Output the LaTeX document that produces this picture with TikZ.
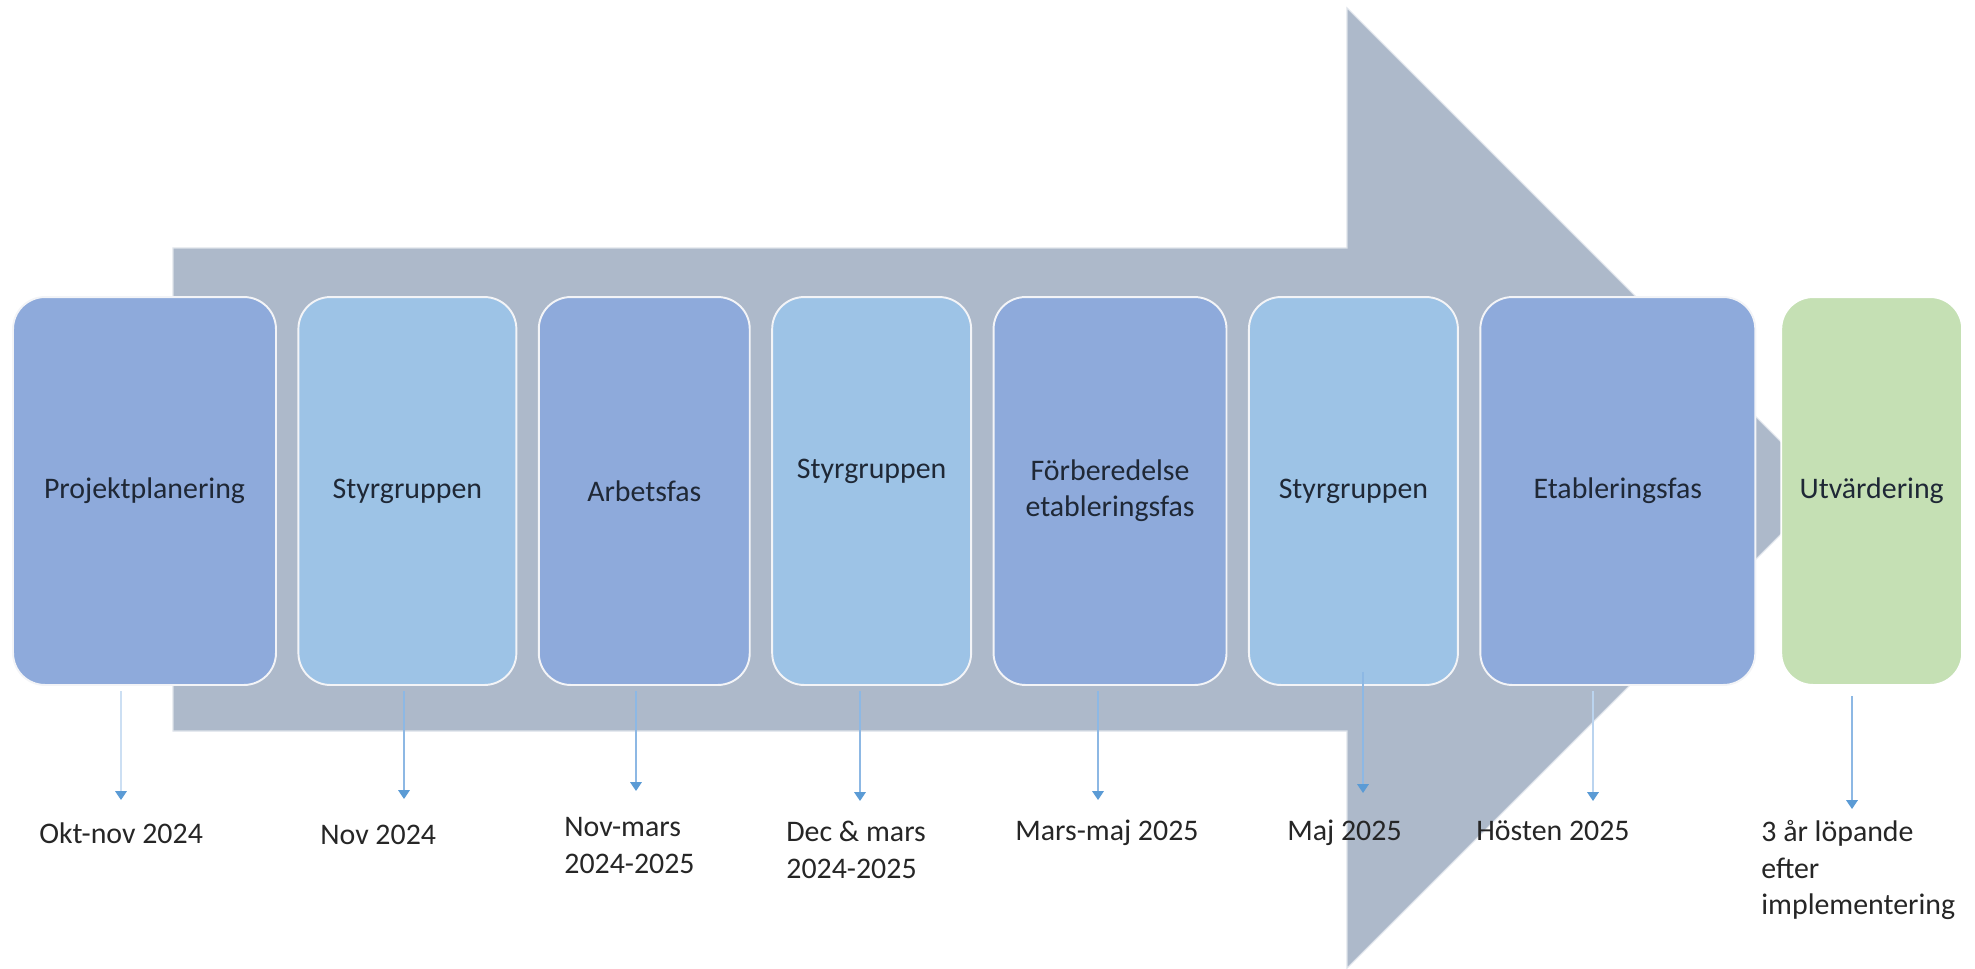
\documentclass[tikz,border=0pt]{standalone}
\usepackage{fontspec}
\setmainfont{Carlito}
\usetikzlibrary{arrows.meta,positioning}

\definecolor{fasmork}{HTML}{8EAADB}
\definecolor{fasljus}{HTML}{9DC3E6}
\definecolor{fasgron}{HTML}{C5E0B4}
\definecolor{pilgra}{HTML}{ADB9CA}
\definecolor{linjebla}{HTML}{8DB8E4}
\definecolor{spetsbla}{HTML}{5B9BD5}
\definecolor{textmork}{HTML}{1F2836}

\begin{document}
\begin{tikzpicture}[x=0.02cm,y=-0.02cm,>={Triangle[length=5pt,width=6.5pt,color=spetsbla]},node distance=0.41cm,
    fas/.style={rectangle,rounded corners=0.64cm,draw=white!85!pilgra,line width=1.1pt,minimum height=7.76cm,
      inner sep=2pt,align=center,text=textmork,font=\fontsize{17}{20.5}\selectfont},
    pil/.style={->,draw=linjebla,line width=0.9pt,shorten <=3pt},
    datum/.style={anchor=base west,align=left,inner sep=0pt,text=black!85,font=\fontsize{17}{20.5}\selectfont}]

      \useasboundingbox (0,0) rectangle (1975,968);

      % stora pilen bakom faserna
      \fill[pilgra,draw=white!60!pilgra,line width=0.6pt]
        (173,248) -- (1347,248) -- (1347,8) -- (1827,488) -- (1347,968) -- (1347,731) -- (173,731) -- cycle;

      \node[fas,fill=fasmork,minimum width=5.26cm] (b1) at (144.5,491) {Projektplanering};
      \node[fas,fill=fasljus,minimum width=4.36cm] (b2) [right=of b1] {Styrgruppen};
      \node[fas,fill=fasmork,minimum width=4.22cm] (b3) [right=of b2] {Arbetsfas};
      \node[fas,fill=fasljus,minimum width=3.98cm,text depth=0.9cm] (b4) [right=of b3] {Styrgruppen};
      \node[fas,fill=fasmork,minimum width=4.66cm] (b5) [right=of b4] {Förberedelse\\etableringsfas};
      \node[fas,fill=fasljus,minimum width=4.18cm] (b6) [right=of b5] {Styrgruppen};
      \node[fas,fill=fasmork,minimum width=5.5cm] (b7) [right=of b6] {Etableringsfas};
      \node[fas,fill=fasgron,draw=white,minimum width=3.62cm] (b8) [right=0.48cm of b7] {Utvärdering};

      % pilar ner till datumen
      \coordinate (t1) at (121,800);
      \coordinate (t2) at (404,799);
      \coordinate (t3) at (636,791);
      \coordinate (t4) at (860,801);
      \coordinate (t5) at (1098,800);
      \coordinate (t6) at (1363,793);
      \coordinate (t7) at (1593,801);
      \coordinate (t8) at (1852,809);

      \draw[pil,draw=linjebla!45] (b1.south -| t1) -- (t1);
      \draw[pil] (b2.south -| t2) -- (t2);
      \draw[pil] (b3.south -| t3) -- (t3);
      \draw[pil] (b4.south -| t4) -- (t4);
      \draw[pil] (b5.south -| t5) -- (t5);
      \draw[pil,shorten <=-8pt] (b6.south -| t6) -- (t6);
      \draw[pil,draw=linjebla!60] (b7.south -| t7) -- (t7);
      \draw[pil,shorten <=6pt] (b8.south -| t8) -- (t8);

      % datum (base = sista raden)
      \node[datum] (d1) at (39,843) {Okt-nov 2024};
      \node[datum] (d2) at (320,844) {Nov 2024};
      \node[datum] (d3) at (564,873) {Nov-mars\\2024-2025};
      \node[datum] (d4) at (786,878) {Dec \& mars\\2024-2025};
      \node[datum] (d5) at (1015,840) {Mars-maj 2025};
      \node[datum] (d6) at (1287,840) {Maj 2025};
      \node[datum] (d7) at (1476,840) {Hösten 2025};
      \node[datum] (d8) at (1761,914) {3 år löpande\\efter\\implementering};
\end{tikzpicture}
\end{document}
